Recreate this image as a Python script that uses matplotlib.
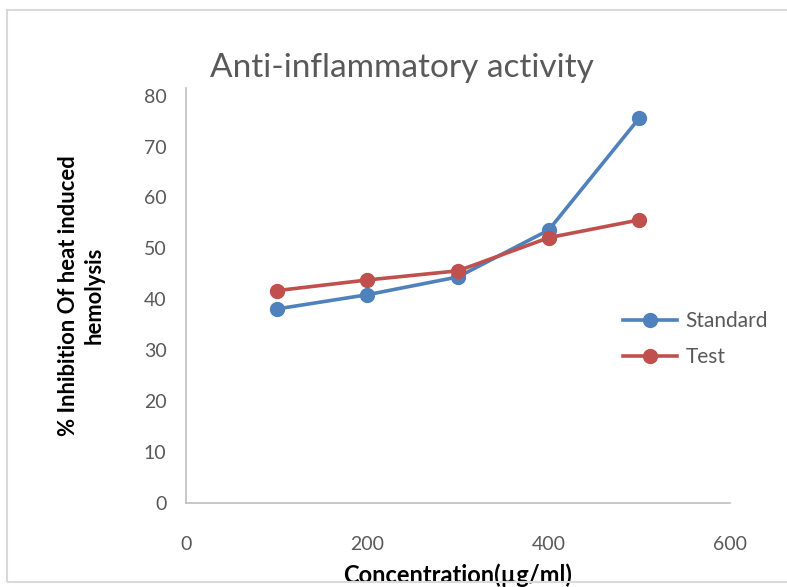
import matplotlib
import matplotlib.pyplot as plt
from matplotlib.patches import Rectangle

matplotlib.use("Agg")

concentration = [100, 200, 300, 400, 500]
standard = [38.1, 40.9, 44.4, 53.6, 75.6]
test = [41.7, 43.8, 45.6, 52.1, 55.6]
x_ticks = [0, 200, 400, 600]
y_ticks = [0, 10, 20, 30, 40, 50, 60, 70, 80]

plt.rcParams["font.family"] = ["Lato", "DejaVu Sans"]

fig = plt.figure(figsize=(7.87, 5.87), dpi=100)
fig.patches.append(Rectangle((7 / 787, 5 / 587), 1.0, 572 / 587, transform=fig.transFigure,
                             fill=False, edgecolor="#d9d9d9", linewidth=1.5))
ax = fig.add_axes([186 / 787, 1 - 503 / 587, 544 / 787, 415 / 587])

ax.plot(concentration, standard, color="#4f81bd", linewidth=2.6, marker="o", markersize=10,
        label="Standard")
ax.plot(concentration, test, color="#c0504d", linewidth=2.6, marker="o", markersize=10,
        label="Test")

ax.set_xlim(0, 600)
ax.set_ylim(0, 81.5)
ax.set_xticks(x_ticks)
ax.set_yticks(y_ticks)
ax.tick_params(length=0, labelsize=14, colors="#595959")
ax.tick_params(axis="x", pad=24)
ax.tick_params(axis="y", pad=14)
for side in ["top", "right"]:
    ax.spines[side].set_visible(False)
for side in ["left", "bottom"]:
    ax.spines[side].set_color("#bfbfbf")
    ax.spines[side].set_linewidth(1.2)

fig.text(402 / 787, 1 - 68 / 587, "Anti-inflammatory activity", ha="center", va="center",
         fontsize=24, color="#595959")
ax.set_xlabel("Concentration(µg/ml)", fontsize=17, fontweight="bold", labelpad=7)
ax.set_ylabel("% Inhibition Of heat induced\nhemolysis", fontsize=15.8, fontweight="bold",
              labelpad=28, linespacing=1.3)

ax.legend(loc="center left", bbox_to_anchor=(604 / 787, 1 - 339 / 587),
          bbox_transform=fig.transFigure, frameon=False, fontsize=15, labelcolor="#595959",
          handlelength=2.6, handletextpad=0.4, labelspacing=0.75)

fig.savefig("out.png", dpi=100)
